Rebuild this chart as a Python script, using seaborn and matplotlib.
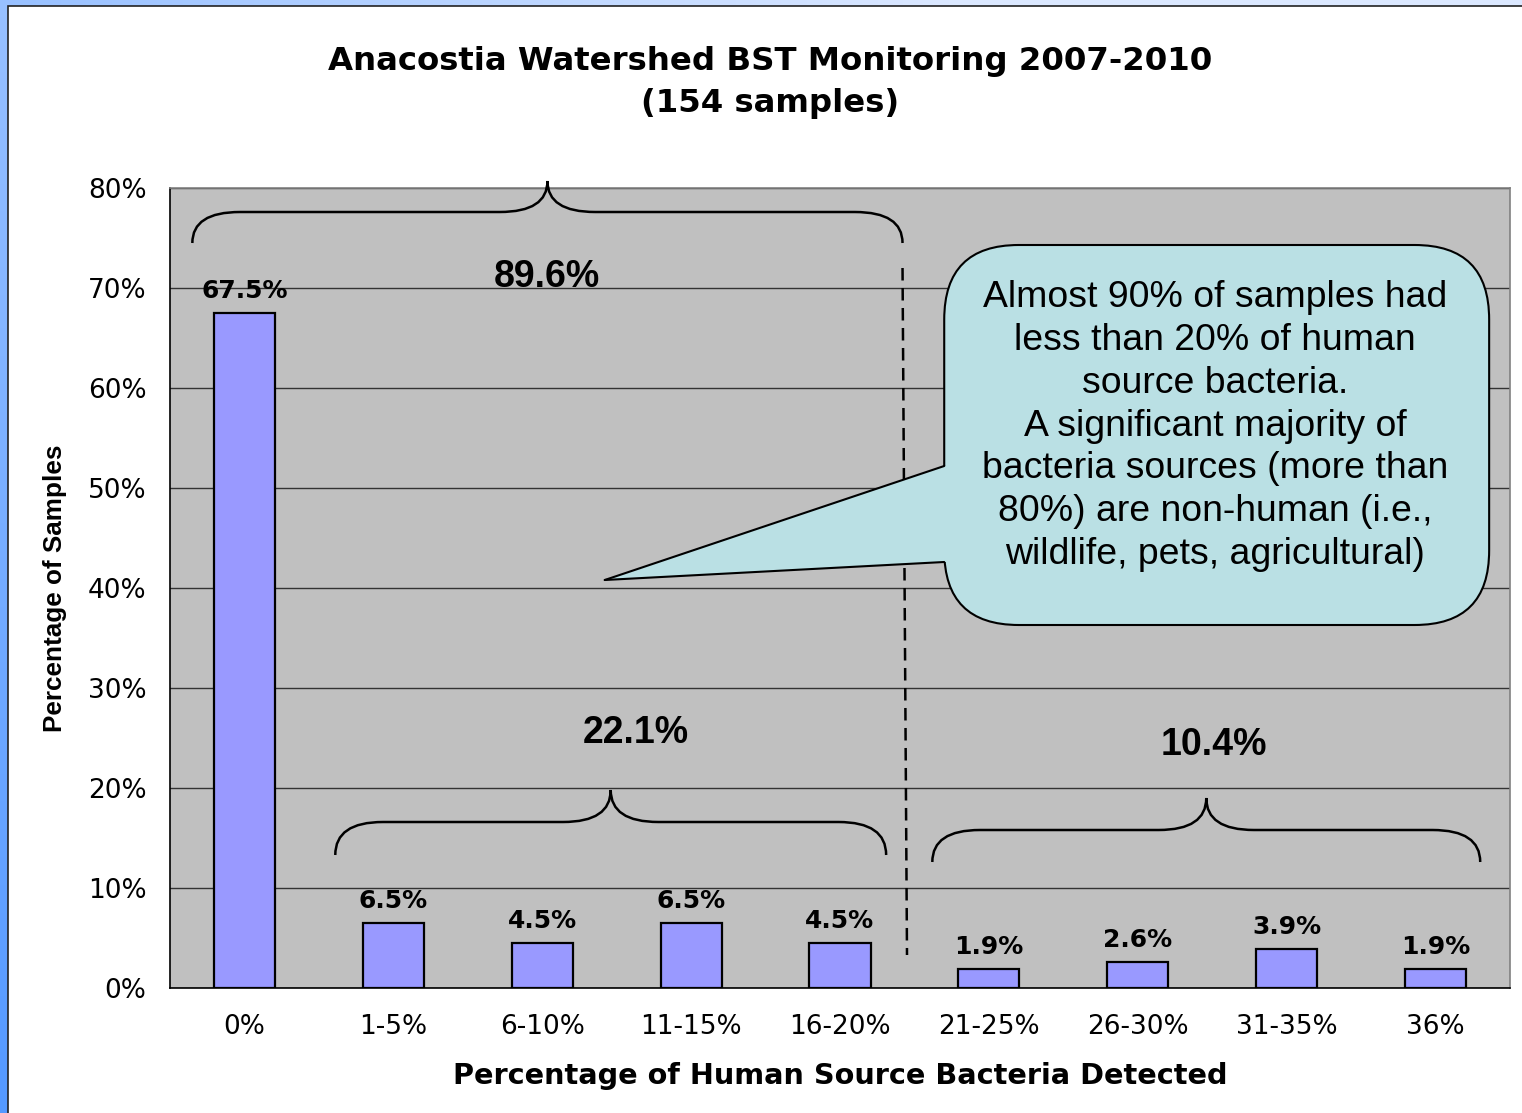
import numpy as np
import pandas as pd
import matplotlib
matplotlib.use('Agg')
import matplotlib.pyplot as plt
import seaborn as sns
from matplotlib.patches import FancyBboxPatch, Polygon, PathPatch, Rectangle
from matplotlib.path import Path

# --- data ---
categories = ['0%', '1-5%', '6-10%', '11-15%', '16-20%',
              '21-25%', '26-30%', '31-35%', '36%']
percent_samples = [67.5, 6.5, 4.5, 6.5, 4.5, 1.9, 2.6, 3.9, 1.9]
y_ticks = [0, 10, 20, 30, 40, 50, 60, 70, 80]
group_labels = ['89.6%', '22.1%', '10.4%']

callout_text = ("Almost 90% of samples had\nless than 20% of human\nsource bacteria.\n"
                "A significant majority of\nbacteria sources (more than\n"
                "80%) are non-human (i.e.,\nwildlife, pets, agricultural)")

df = pd.DataFrame({'range': categories, 'share': percent_samples})

sns.set_style('white')
plt.rcParams['font.family'] = ['DejaVu Sans']
plt.rcParams['text.color'] = 'black'
plt.rcParams['axes.labelcolor'] = 'black'
plt.rcParams['xtick.color'] = 'black'
plt.rcParams['ytick.color'] = 'black'

W, H = 1522, 1113
fig = plt.figure(figsize=(W / 100, H / 100), dpi=100)

# --- slide-like background: blue gradient frame + white panel ---
bg = fig.add_axes([0, 0, 1, 1], zorder=-10)
bg.axis('off')
gx, gy = np.meshgrid(np.linspace(0, 1, 300), np.linspace(0, 1, 200))
t = np.clip(0.8 * gx + 0.5 * gy, 0, 1)[..., None]
c0 = np.array([0.33, 0.60, 1.00])
c1 = np.array([0.86, 0.91, 1.00])
bg.imshow(c0 * (1 - t) + c1 * t, extent=[0, 1, 1, 0], aspect='auto')
bg.set_xlim(0, 1)
bg.set_ylim(0, 1)
bg.add_patch(Rectangle((8 / W, -0.01), 1.0, 1 - 6 / H + 0.01,
                       facecolor='white', edgecolor='#222222', lw=1.2))

# --- main chart ---
ax = fig.add_axes([170 / W, 1 - 988 / H, 1340 / W, 800 / H])
sns.barplot(data=df, x='range', y='share', color='#9999FF', saturation=1,
            width=0.41, edgecolor='black', linewidth=1.6, ax=ax, zorder=3)

ax.set_facecolor('#C0C0C0')
ax.set_xlim(-0.5, 8.5)
ax.set_ylim(0, 80)
ax.set_yticks(y_ticks)
ax.set_yticklabels([f'{v}%' for v in y_ticks])
ax.yaxis.grid(True, color='#333333', lw=1)
ax.set_axisbelow(True)
for side in ['left', 'bottom']:
    ax.spines[side].set_color('black')
    ax.spines[side].set_linewidth(1.2)
for side in ['top', 'right']:
    ax.spines[side].set_color('#808080')
    ax.spines[side].set_linewidth(1.2)

ax.set_xticks(np.arange(-0.5, 9, 1), minor=True)
ax.tick_params(axis='y', direction='out', length=8, width=1, pad=9,
               labelsize=19)
ax.tick_params(axis='x', which='major', length=0, pad=19, labelsize=19)
ax.tick_params(axis='x', which='minor', direction='out', length=8, width=1)

ax.set_xlabel('Percentage of Human Source Bacteria Detected',
              fontsize=20.7, fontweight='bold')
ax.xaxis.set_label_coords(0.5, -0.092)
ax.set_ylabel('Percentage of Samples', fontsize=18.8, fontweight='bold',
              family=['Liberation Sans', 'DejaVu Sans'])
ax.yaxis.set_label_coords(-0.077, 0.5)

fig.text(0.506, 0.926, 'Anacostia Watershed BST Monitoring 2007-2010\n(154 samples)',
         ha='center', va='center', fontsize=23.3, fontweight='bold',
         linespacing=1.45)

# value labels above bars
for i, v in enumerate(percent_samples):
    ax.text(i, v + 1.0, f'{v}%', ha='center', va='bottom',
            fontsize=18, fontweight='bold', zorder=6)


# curly braces
def brace(x0, x1, y_end, y_mid, y_tip, rx=0.32, rx2=0.32):
    xm = (x0 + x1) / 2
    verts = [(x0, y_end), (x0, y_mid), (x0 + rx, y_mid),
             (xm - rx2, y_mid),
             (xm, y_mid), (xm, y_tip),
             (xm, y_mid), (xm + rx2, y_mid),
             (x1 - rx, y_mid),
             (x1, y_mid), (x1, y_end)]
    codes = [Path.MOVETO, Path.CURVE3, Path.CURVE3, Path.LINETO,
             Path.CURVE3, Path.CURVE3, Path.CURVE3, Path.CURVE3,
             Path.LINETO, Path.CURVE3, Path.CURVE3]
    ax.add_patch(PathPatch(Path(verts, codes), fill=False, edgecolor='black',
                           lw=1.8, zorder=5, clip_on=False))


brace(-0.35, 4.42, 74.5, 77.6, 80.7)
brace(0.61, 4.31, 13.3, 16.6, 19.8)
brace(4.62, 8.30, 12.6, 15.8, 19.0)

label_font = dict(fontsize=27, fontweight='bold', ha='center', va='center',
                  family=['Liberation Sans', 'DejaVu Sans'], zorder=6)
ax.text(2.03, 71.1, group_labels[0], **label_font)
ax.text(2.63, 25.5, group_labels[1], **label_font)
ax.text(6.51, 24.3, group_labels[2], **label_font)

# dashed separator
ax.plot([4.42, 4.45], [72.0, 3.3], color='black', lw=1.8,
        dashes=(5, 3), zorder=4)

# callout bubble
box_x0, box_x1, box_y0, box_y1 = 4.70, 8.36, 36.3, 74.3
fill = '#BAE0E4'
ax.add_patch(FancyBboxPatch((box_x0, box_y0), box_x1 - box_x0, box_y1 - box_y0,
                            boxstyle='round,pad=0,rounding_size=0.5',
                            mutation_aspect=14.9, facecolor=fill,
                            edgecolor='black', lw=1.5, zorder=7))
tip = (2.42, 40.8)
ax.add_patch(Polygon([tip, (box_x0, 52.2), (box_x0 + 0.05, 52.2),
                      (box_x0 + 0.05, 42.6), (box_x0, 42.6)],
                     closed=True, facecolor=fill, edgecolor='none', zorder=8))
ax.plot([tip[0], box_x0], [tip[1], 52.2], color='black', lw=1.5, zorder=9)
ax.plot([tip[0], box_x0], [tip[1], 42.6], color='black', lw=1.5, zorder=9)
ax.text(6.52, 56.2, callout_text, ha='center', va='center', fontsize=26.9,
        linespacing=1.29, family=['Liberation Sans', 'DejaVu Sans'], zorder=10)

plt.savefig('out.png', dpi=100)
